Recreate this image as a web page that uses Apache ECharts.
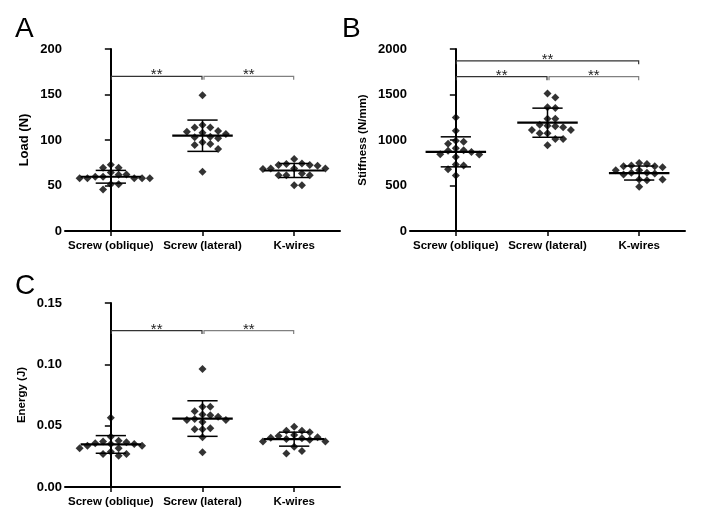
<!DOCTYPE html>
<html>
<head>
<meta charset="utf-8">
<script src="https://cdn.jsdelivr.net/npm/echarts@6/dist/echarts.min.js"></script>
<style>html,body{margin:0;padding:0;background:#fff}#c{width:710px;height:511px}</style>
</head>
<body>
<div id="c"></div>
<script>
// ---------------- data ----------------
const categories = ['Screw (oblique)', 'Screw (lateral)', 'K-wires'];

const loadOblique = [72.8, 69.5, 69.5, 64.3, 61.8, 62.2, 59.6, 59.6, 58.1, 58.1, 58.1, 58.1, 58.1, 51.5, 51.5, 45.6];
const loadLateral = [149.3, 116.5, 113.6, 113.6, 110, 109, 108, 106.6, 103.7, 102.9, 101.8, 97.4, 95.6, 94.5, 90, 65];
const loadKwires  = [79, 74.3, 73.5, 72.4, 72.4, 71.7, 68.8, 68.8, 68.8, 68, 63.2, 61.4, 61.4, 61.4, 50.4, 50.4];
const loadMean = [59.6, 104.7, 66.5];
const loadSD   = [7.0, 17.2, 7.7];

const stiffOblique = [1248, 1102, 993, 982, 960, 909, 887, 883, 868, 843, 840, 814, 730, 719, 679, 610];
const stiffLateral = [1511, 1467, 1361, 1351, 1234, 1234, 1168, 1157, 1150, 1139, 1110, 1110, 1075, 1075, 1010, 1010, 942];
const stiffKwires  = [748, 737, 719, 712, 712, 700, 668, 668, 639, 639, 631, 620, 566, 566, 558, 485];
const stiffMean = [870, 1190, 637];
const stiffSD   = [165, 160, 77];

const energyOblique = [0.0565, 0.041, 0.0378, 0.037, 0.0364, 0.0356, 0.0351, 0.0351, 0.0337, 0.0337, 0.0315, 0.0315, 0.0288, 0.0269, 0.0269, 0.0255];
const energyLateral = [0.0962, 0.0655, 0.0655, 0.0617, 0.0592, 0.0584, 0.0573, 0.0554, 0.0546, 0.0546, 0.053, 0.0478, 0.047, 0.047, 0.0405, 0.0283];
const energyKwires  = [0.0492, 0.0459, 0.0459, 0.0446, 0.0424, 0.0416, 0.0405, 0.0402, 0.0397, 0.0391, 0.0385, 0.037, 0.037, 0.0329, 0.0293, 0.0274];
const energyMean = [0.0347, 0.0558, 0.0390];
const energySD   = [0.0072, 0.0145, 0.0057];

// brackets: [fromCategory, toCategory, yValue]
const loadBrackets   = [[0, 1, 170], [1, 2, 170]];
const stiffBrackets  = [[0, 2, 1870], [0, 1, 1696], [1, 2, 1696]];
const energyBrackets = [[0, 1, 0.1275], [1, 2, 0.1275]];
const sigLabel = '**';

const panelLetters = ['A', 'B', 'C'];
const yNames = ['Load (N)', 'Stiffness (N/mm)', 'Energy (J)'];
const yMax = [200, 2000, 0.15];
const yInterval = [50, 500, 0.05];

// ---------------- layout ----------------
const grids = [
  {left: 65, top: 49, width: 275, height: 182},
  {left: 410, top: 49, width: 275, height: 182},
  {left: 65, top: 303, width: 275, height: 184}
];
const FONT = '"Liberation Sans", Arial, sans-serif';

// beeswarm layout (category units) derived from values
function swarm(values, cat, panel) {
  const g = grids[panel];
  const pxPerUnit = g.height / yMax[panel];
  const band = g.width / 3;
  const sorted = values.slice().sort((a, b) => b - a);
  const placed = [];
  const step = 7.8, minD = 7;
  sorted.forEach(v => {
    const py = v * pxPerUnit;
    let px = 0;
    for (let i = 0; i < 40; i++) {
      const cand = (i === 0) ? 0 : (i % 2 ? 1 : -1) * Math.ceil(i / 2) * step;
      const ok = placed.every(p => Math.hypot(p[0] - cand, p[1] - py) >= minD);
      if (ok) { px = cand; break; }
    }
    placed.push([px, py, v]);
  });
  return placed.map(p => [cat + p[0] / band, p[2]]);
}

const groups = [
  [loadOblique, loadLateral, loadKwires],
  [stiffOblique, stiffLateral, stiffKwires],
  [energyOblique, energyLateral, energyKwires]
];
const means = [loadMean, stiffMean, energyMean];
const sds = [loadSD, stiffSD, energySD];
const brackets = [loadBrackets, stiffBrackets, energyBrackets];

const xAxis = [], yAxis = [], series = [];
grids.forEach((g, p) => {
  xAxis.push({
    type: 'category', gridIndex: p, data: categories, boundaryGap: true,
    axisLine: {show: true, lineStyle: {color: '#000', width: 2}},
    axisTick: {show: true, alignWithLabel: true, length: 5, lineStyle: {color: '#000', width: 1.5}},
    axisLabel: {color: '#000', fontWeight: 'bold', fontSize: 11.5, fontFamily: FONT, margin: 9, interval: 0},
    splitLine: {show: false}
  });
  xAxis.push({type: 'value', gridIndex: p, min: -0.5, max: 2.5, show: false});
  yAxis.push({
    type: 'value', gridIndex: p, min: 0, max: yMax[p], interval: yInterval[p],
    name: yNames[p], nameLocation: 'middle',
    nameGap: p === 1 ? 41 : (p === 0 ? 34 : 37),
    nameTextStyle: {color: '#000', fontWeight: 'bold', fontSize: p === 0 ? 13 : 11.5, fontFamily: FONT},
    axisLine: {show: true, lineStyle: {color: '#000', width: 2}},
    axisTick: {show: true, length: 6, lineStyle: {color: '#000', width: 1.5}},
    axisLabel: {color: '#000', fontWeight: 'bold', fontSize: 13, fontFamily: FONT, margin: 3,
      formatter: v => p === 2 ? v.toFixed(2) : String(Math.round(v))},
    splitLine: {show: false}
  });
  const xi = p * 2 + 1;
  // points
  groups[p].forEach((vals, c) => {
    series.push({
      type: 'scatter', xAxisIndex: xi, yAxisIndex: p, symbol: 'diamond', symbolSize: 8,
      itemStyle: {color: '#000'}, data: swarm(vals, c, p), silent: true, z: 3
    });
  });
  // mean +- SD
  series.push({
    type: 'custom', xAxisIndex: xi, yAxisIndex: p, z: 4, silent: true,
    data: means[p].map((m, c) => [c, m, sds[p][c]]),
    renderItem: (params, api) => {
      const x = api.value(0), m = api.value(1), s = api.value(2);
      const c = api.coord([x, m]), up = api.coord([x, m + s]), lo = api.coord([x, m - s]);
      const band = api.size([1, 0])[0];
      const mh = band * 0.33, ch = band * 0.165;
      const st = {stroke: '#000', lineWidth: 1.5};
      return {type: 'group', children: [
        {type: 'line', shape: {x1: c[0] - mh, y1: c[1], x2: c[0] + mh, y2: c[1]}, style: {stroke: '#000', lineWidth: 2.2}},
        {type: 'line', shape: {x1: c[0], y1: up[1], x2: c[0], y2: lo[1]}, style: st},
        {type: 'line', shape: {x1: c[0] - ch, y1: up[1], x2: c[0] + ch, y2: up[1]}, style: st},
        {type: 'line', shape: {x1: c[0] - ch, y1: lo[1], x2: c[0] + ch, y2: lo[1]}, style: st}
      ]};
    }
  });
  // significance brackets
  series.push({
    type: 'custom', xAxisIndex: xi, yAxisIndex: p, z: 4, silent: true,
    data: brackets[p],
    renderItem: (params, api) => {
      const a = api.value(0), b = api.value(1), y = api.value(2);
      const p1 = api.coord([a, y]), p2 = api.coord([b, y]);
      const x1 = p1[0] + (a === 1 ? 1.5 : 0.5), x2 = p2[0] - 0.5;
      const col = a === 1 ? '#808080' : '#333';
      return {type: 'group', children: [
        {type: 'polyline', shape: {points: [[x1, p1[1] + 3.5], [x1, p1[1]], [x2, p1[1]], [x2, p1[1] + 3.5]]},
          style: {stroke: col, lineWidth: 1.2, fill: null}},
        {type: 'text', x: (x1 + x2) / 2, y: p1[1] - 1,
          style: {text: sigLabel, fill: '#222', font: '15px ' + FONT, align: 'center', verticalAlign: 'middle'}}
      ]};
    }
  });
});

const letterPos = [[15, 15], [342, 15], [15, 272]];
const chart = echarts.init(document.getElementById('c'), null, {renderer: 'canvas'});
chart.setOption({
  animation: false,
  backgroundColor: '#fff',
  grid: grids.map(g => Object.assign({containLabel: false}, g)),
  xAxis, yAxis, series,
  graphic: panelLetters.map((t, i) => ({
    type: 'text', left: letterPos[i][0], top: letterPos[i][1],
    style: {text: t, fill: '#000', font: '28px ' + FONT}
  }))
});
</script>
</body>
</html>
